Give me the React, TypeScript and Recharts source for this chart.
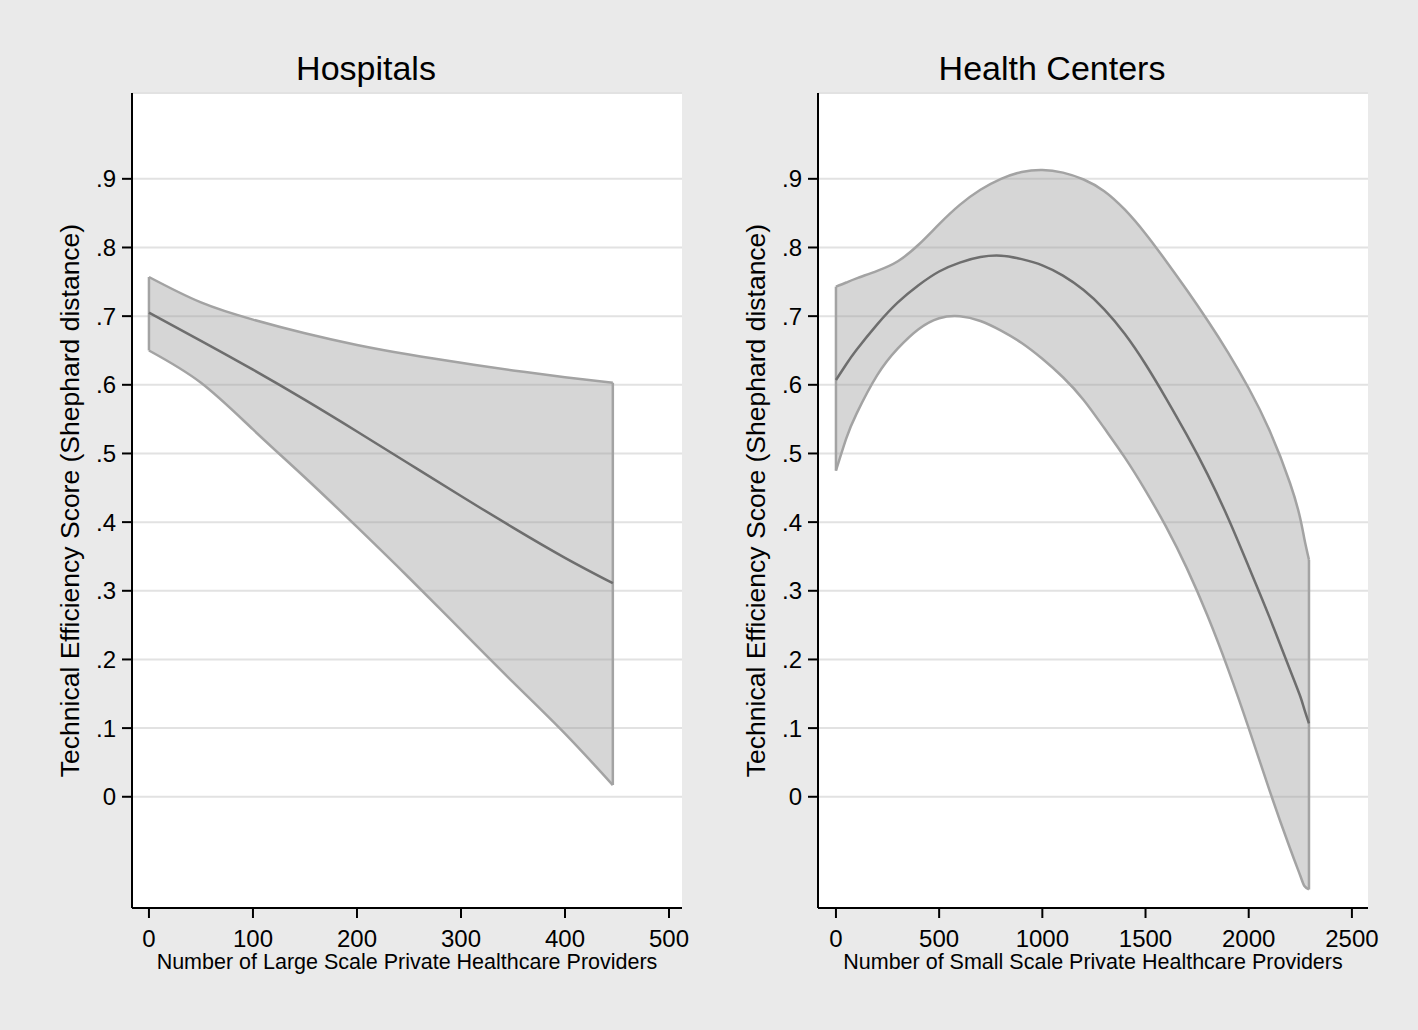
import React from 'react';
import {
  ComposedChart,
  Area,
  Line,
  XAxis,
  YAxis,
  CartesianGrid,
  ReferenceLine,
  Label,
} from 'recharts';

// Hospitals panel: large scale private providers
const hospX = [0, 50, 100, 150, 200, 250, 300, 350, 400, 446];
const hospFit = [0.705, 0.664, 0.622, 0.578, 0.532, 0.485, 0.438, 0.392, 0.348, 0.311];
const hospLow = [0.65, 0.603, 0.535, 0.465, 0.393, 0.319, 0.243, 0.167, 0.092, 0.017];
const hospHigh = [0.757, 0.72, 0.695, 0.675, 0.658, 0.644, 0.632, 0.621, 0.611, 0.603];

// Health centers panel: small scale private providers
const hcX = [0, 50, 100, 200, 300, 400, 500, 600, 700, 800, 900, 1000, 1100, 1200, 1300, 1400, 1500, 1600, 1700, 1800, 1900, 2000, 2100, 2200, 2250, 2270, 2292];
const hcFit = [0.607, 0.63, 0.651, 0.688, 0.72, 0.745, 0.765, 0.778, 0.786, 0.788, 0.783, 0.774, 0.759, 0.738, 0.71, 0.674, 0.63, 0.58, 0.527, 0.47, 0.406, 0.335, 0.262, 0.185, 0.146, 0.127, 0.107];
const hcLow = [0.475, 0.522, 0.558, 0.614, 0.653, 0.681, 0.697, 0.7, 0.693, 0.679, 0.661, 0.638, 0.611, 0.578, 0.537, 0.494, 0.446, 0.393, 0.333, 0.264, 0.186, 0.1, 0.01, -0.075, -0.115, -0.13, -0.135];
const hcHigh = [0.743, 0.749, 0.755, 0.766, 0.78, 0.804, 0.834, 0.862, 0.884, 0.9, 0.91, 0.913, 0.909, 0.899, 0.882, 0.855, 0.82, 0.78, 0.738, 0.694, 0.647, 0.595, 0.534, 0.457, 0.405, 0.375, 0.345];

const yTicks = [0, 0.1, 0.2, 0.3, 0.4, 0.5, 0.6, 0.7, 0.8, 0.9];
const hospTicks = [0, 100, 200, 300, 400, 500];
const hcTicks = [0, 500, 1000, 1500, 2000, 2500];

const FONT = '"Liberation Sans", Arial, Helvetica, sans-serif';
const BAND_FILL = '#999999';
const BAND_EDGE = '#a3a3a3';
const FIT = '#6e6e6e';

const build = (xs: number[], fit: number[], lo: number[], hi: number[]) =>
  xs.map((x, i) => ({ x, fit: fit[i], lo: lo[i], hi: hi[i] }));

const fmtY = (v: number) => (v === 0 ? '0' : v.toFixed(1).replace(/^0/, ''));

interface PanelProps {
  left: number;
  title: string;
  xLabel: string;
  data: { x: number; fit: number; lo: number; hi: number }[];
  xDomain: [number, number];
  xTicks: number[];
}

const Panel: React.FC<PanelProps> = ({ left, title, xLabel, data, xDomain, xTicks }) => {
  const first = data[0];
  const last = data[data.length - 1];
  return (
    <div style={{ position: 'absolute', left, top: 0, width: 700, height: 1030 }}>
      <svg width={700} height={100} style={{ position: 'absolute', left: 0, top: 0 }}>
        <text x={366} y={80} textAnchor="middle" fontFamily={FONT} fontSize={34} fill="#000">
          {title}
        </text>
      </svg>
      <div style={{ position: 'absolute', left: 0, top: 0 }}>
        <ComposedChart
          width={700}
          height={1030}
          data={data}
          margin={{ top: 93, right: 18, left: 0, bottom: 42 }}
        >
          <CartesianGrid vertical={false} fill="#ffffff" stroke="#e2e2e2" strokeWidth={2} />
          <XAxis
            type="number"
            dataKey="x"
            domain={xDomain}
            ticks={xTicks}
            allowDataOverflow
            height={80}
            tickSize={10}
            tickMargin={12}
            axisLine={{ stroke: '#000', strokeWidth: 2 }}
            tickLine={{ stroke: '#000', strokeWidth: 2 }}
            tick={{ fill: '#000', fontSize: 24, fontFamily: FONT }}
          >
            <Label
              content={({ viewBox }: any) => (
                <text
                  x={viewBox.x + viewBox.width / 2}
                  y={viewBox.y + 61}
                  textAnchor="middle"
                  fontFamily={FONT}
                  fontSize={21.5}
                  fill="#000"
                >
                  {xLabel}
                </text>
              )}
            />
          </XAxis>
          <YAxis
            type="number"
            domain={[-0.162, 1.025]}
            ticks={yTicks}
            allowDataOverflow
            width={132}
            tickSize={10}
            tickMargin={6}
            tickFormatter={fmtY}
            axisLine={{ stroke: '#000', strokeWidth: 2 }}
            tickLine={{ stroke: '#000', strokeWidth: 2 }}
            tick={{ fill: '#000', fontSize: 24, fontFamily: FONT }}
          >
            <Label
              content={({ viewBox }: any) => {
                const cx = viewBox.x + 70;
                const cy = viewBox.y + viewBox.height / 2;
                return (
                  <text
                    x={cx}
                    y={cy}
                    transform={`rotate(-90 ${cx} ${cy})`}
                    textAnchor="middle"
                    dominantBaseline="central"
                    fontFamily={FONT}
                    fontSize={26.5}
                    fill="#000"
                  >
                    Technical Efficiency Score (Shephard distance)
                  </text>
                );
              }}
            />
          </YAxis>
          <Area
            type="natural"
            dataKey={(d: any) => [d.lo, d.hi]}
            fill={BAND_FILL}
            fillOpacity={0.4}
            stroke={BAND_EDGE}
            strokeWidth={2.5}
            isAnimationActive={false}
            dot={false}
            activeDot={false}
          />
          <ReferenceLine
            segment={[{ x: first.x, y: first.lo }, { x: first.x, y: first.hi }]}
            stroke={BAND_EDGE}
            strokeWidth={2.5}
          />
          <ReferenceLine
            segment={[{ x: last.x, y: last.lo }, { x: last.x, y: last.hi }]}
            stroke={BAND_EDGE}
            strokeWidth={2.5}
          />
          <Line
            type="natural"
            dataKey="fit"
            stroke={FIT}
            strokeWidth={2.5}
            dot={false}
            activeDot={false}
            isAnimationActive={false}
          />
        </ComposedChart>
      </div>
    </div>
  );
};

export default function App() {
  return (
    <div
      style={{
        position: 'absolute',
        left: 0,
        top: 0,
        width: 1418,
        height: 1030,
        background: '#eaeaea',
        overflow: 'hidden',
      }}
    >
      <Panel
        left={0}
        title="Hospitals"
        xLabel="Number of Large Scale Private Healthcare Providers"
        data={build(hospX, hospFit, hospLow, hospHigh)}
        xDomain={[-16.3, 512.5]}
        xTicks={hospTicks}
      />
      <Panel
        left={686}
        title="Health Centers"
        xLabel="Number of Small Scale Private Healthcare Providers"
        data={build(hcX, hcFit, hcLow, hcHigh)}
        xDomain={[-87, 2578]}
        xTicks={hcTicks}
      />
    </div>
  );
}
